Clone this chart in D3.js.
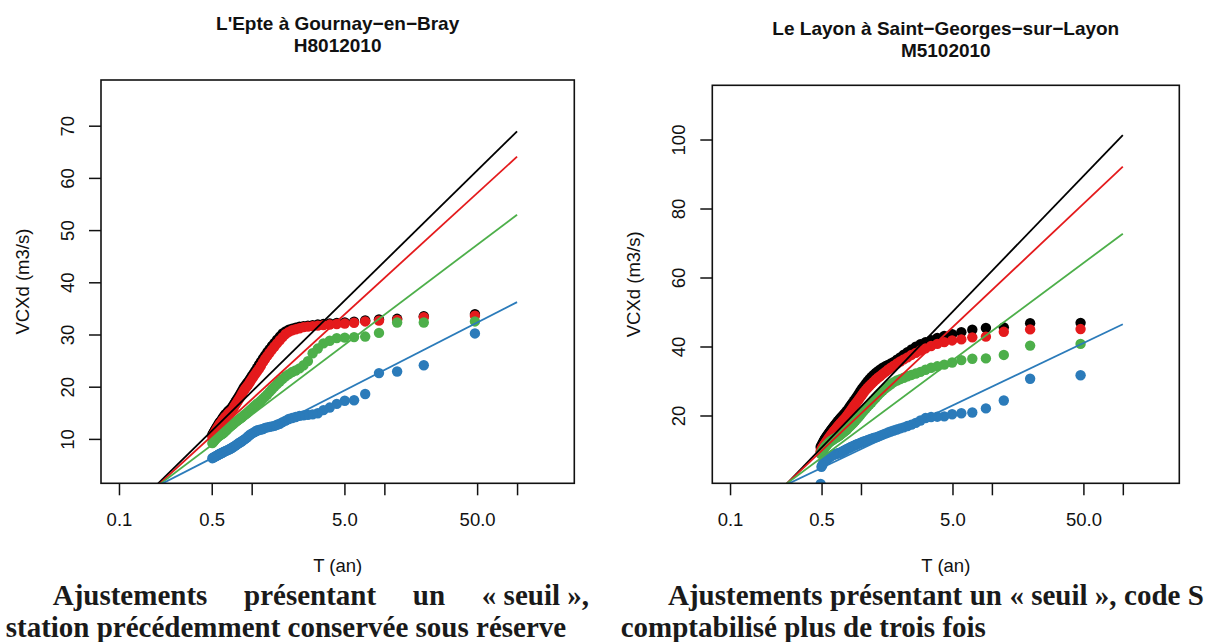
<!DOCTYPE html>
<html><head><meta charset="utf-8">
<script src="https://cdn.jsdelivr.net/npm/d3@7"></script>
<style>body{margin:0;background:#fff}svg{display:block}</style>
</head><body>
<svg id="c" width="1213" height="642"></svg>
<script>
// ---------- shared ----------
const xTicks = [0.1, 0.5, 1, 5, 10, 50, 100];
const xTickLabels = ["0.1", "0.5", "", "5.0", "", "50.0", ""];
const seriesColors = ["#000000", "#E41A1C", "#4DAF4A", "#2B7BBA"];
const xLabel = "T (an)";
const yLabel = "VCXd (m3/s)";
const lineT = [0.1, 100];

// ---------- left panel : L'Epte ----------
const leftTitle = ["L'Epte à Gournay\u2212en\u2212Bray", "H8012010"];
const leftYTicks = [10, 20, 30, 40, 50, 60, 70];
const leftT = [48.14, 19.82, 12.48, 9.108, 7.170, 5.912, 5.030, 4.377, 3.874, 3.474, 3.150, 2.880, 2.654, 2.460, 2.293, 2.146, 2.018, 1.904, 1.802, 1.711, 1.628, 1.553, 1.485, 1.422, 1.364, 1.311, 1.262, 1.217, 1.174, 1.135, 1.098, 1.063, 1.031, 1.000, 0.9712, 0.9440, 0.9183, 0.8940, 0.8708, 0.8489, 0.8280, 0.8081, 0.7892, 0.7712, 0.7539, 0.7374, 0.7216, 0.7065, 0.6920, 0.6781, 0.6647, 0.6519, 0.6395, 0.6276, 0.6161, 0.6051, 0.5944, 0.5841, 0.5741, 0.5645, 0.5552, 0.5461, 0.5375, 0.5290, 0.5209, 0.5129, 0.5053];
const leftBlack = [34.0, 33.6, 33.1, 33.0, 32.8, 32.55, 32.4, 32.3, 32.2, 32.1, 32.0, 31.9, 31.8, 31.7, 31.6, 31.4, 31.2, 31.0, 30.7, 30.3, 29.7, 29.1, 28.5, 27.9, 27.3, 26.7, 26.1, 25.5, 24.9, 24.3, 23.7, 23.1, 22.6, 22.1, 21.6, 21.1, 20.7, 20.3, 19.9, 19.4, 18.9, 18.4, 18.0, 17.6, 17.2, 16.8, 16.4, 16.1, 15.8, 15.6, 15.4, 15.1, 14.9, 14.7, 14.4, 14.1, 13.8, 13.5, 13.3, 13.0, 12.7, 12.4, 12.1, 11.8, 11.5, 11.2, 10.9];
const leftRed = [33.7, 33.4, 32.9, 32.75, 32.6, 32.35, 32.2, 32.1, 32.0, 31.9, 31.8, 31.7, 31.6, 31.5, 31.3, 31.1, 30.9, 30.6, 30.2, 29.6, 29.0, 28.4, 27.8, 27.2, 26.6, 26.0, 25.4, 24.8, 24.1, 23.5, 23.0, 22.5, 22.0, 21.5, 21.0, 20.5, 20.1, 19.7, 19.3, 18.8, 18.3, 17.8, 17.4, 17.0, 16.6, 16.2, 15.8, 15.5, 15.3, 15.1, 14.9, 14.6, 14.4, 14.2, 13.9, 13.7, 13.4, 13.1, 12.9, 12.6, 12.3, 12.0, 11.7, 11.4, 11.1, 10.8, 10.5];
const leftGreen = [32.6, 32.4, 32.4, 30.4, 29.7, 29.6, 29.5, 29.4, 28.9, 28.4, 27.4, 26.5, 25.0, 24.2, 23.6, 23.2, 22.9, 22.5, 22.1, 21.6, 21.1, 20.6, 20.1, 19.6, 19.1, 18.6, 18.2, 17.8, 17.4, 17.1, 16.8, 16.5, 16.2, 15.9, 15.6, 15.3, 15.0, 14.8, 14.6, 14.3, 14.1, 13.9, 13.7, 13.5, 13.3, 13.1, 12.9, 12.7, 12.5, 12.3, 12.1, 11.9, 11.7, 11.5, 11.3, 11.1, 11.0, 10.9, 10.8, 10.6, 10.5, 10.3, 10.1, 9.9, 9.7, 9.5, 9.3];
const leftBlue = [30.3, 24.2, 23.0, 22.7, 18.7, 17.5, 17.4, 16.8, 16.1, 15.6, 15.0, 14.8, 14.7, 14.6, 14.5, 14.3, 14.1, 13.9, 13.6, 13.3, 13.0, 12.8, 12.6, 12.5, 12.4, 12.3, 12.2, 12.0, 11.9, 11.8, 11.7, 11.5, 11.3, 11.1, 10.9, 10.6, 10.35, 10.1, 9.9, 9.7, 9.5, 9.35, 9.2, 9.0, 8.8, 8.65, 8.5, 8.35, 8.2, 8.1, 8.0, 7.9, 7.8, 7.7, 7.6, 7.5, 7.4, 7.3, 7.2, 7.1, 7.0, 6.9, 6.8, 6.7, 6.6, 6.5, 6.4];
const leftLineBlack = [-5.8, 69.0];
const leftLineRed = [-5.59, 64.16];
const leftLineGreen = [-4.49, 53.05];
const leftLineBlue = [-2.7, 36.3];
const leftCaption1 = ["Ajustements", "présentant", "un", "«\u00a0seuil\u00a0»,"];
const leftCaption2 = "station précédemment conservée sous réserve";

// ---------- right panel : Le Layon ----------
const rightTitle = ["Le Layon à Saint\u2212Georges\u2212sur\u2212Layon", "M5102010"];
const rightYTicks = [20, 40, 60, 80, 100];
const rightT = [47.57, 19.59, 12.33, 9.000, 7.085, 5.842, 4.970, 4.325, 3.828, 3.433, 3.112, 2.846, 2.622, 2.431, 2.265, 2.121, 1.994, 1.881, 1.781, 1.690, 1.609, 1.535, 1.467, 1.405, 1.348, 1.296, 1.247, 1.202, 1.160, 1.121, 1.085, 1.050, 1.018, 0.9881, 0.9597, 0.9328, 0.9074, 0.8833, 0.8605, 0.8388, 0.8182, 0.7986, 0.7799, 0.7620, 0.7450, 0.7287, 0.7131, 0.6981, 0.6838, 0.6700, 0.6568, 0.6441, 0.6319, 0.6201, 0.6088, 0.5979, 0.5873, 0.5772, 0.5673, 0.5579, 0.5486, 0.5398, 0.5311, 0.5228, 0.5147, 0.5069, 0.4993, 0.4919];
const rightBlack = [47.0, 46.9, 45.7, 45.5, 45.0, 44.3, 43.7, 43.2, 42.6, 42.0, 41.4, 40.8, 40.1, 39.3, 38.5, 37.8, 37.0, 36.3, 35.7, 35.2, 34.8, 34.4, 34.0, 33.5, 33.0, 32.5, 31.9, 31.3, 30.7, 30.0, 29.3, 28.6, 27.9, 27.2, 26.4, 25.7, 25.0, 24.4, 23.8, 23.2, 22.6, 22.0, 21.5, 21.0, 20.6, 20.2, 19.8, 19.4, 19.0, 18.6, 18.2, 17.8, 17.4, 17.0, 16.6, 16.2, 15.8, 15.4, 15.0, 14.6, 14.2, 13.8, 13.4, 13.0, 12.5, 12.0, 11.5, 11.0];
const rightRed = [45.2, 45.1, 44.4, 43.0, 42.8, 42.2, 41.9, 41.4, 40.9, 40.3, 39.6, 39.0, 38.3, 37.7, 37.0, 36.4, 35.8, 35.2, 34.6, 34.0, 33.4, 32.8, 32.2, 31.6, 31.1, 30.5, 29.9, 29.3, 28.7, 28.1, 27.5, 26.8, 26.1, 25.4, 24.7, 24.1, 23.5, 22.9, 22.3, 21.7, 21.1, 20.5, 20.0, 19.5, 19.1, 18.7, 18.3, 17.9, 17.5, 17.1, 16.7, 16.3, 15.9, 15.6, 15.2, 14.8, 14.4, 14.0, 13.6, 13.2, 12.8, 12.4, 12.0, 11.6, 11.2, 10.8, 10.3, 9.8];
const rightGreen = [40.9, 40.4, 37.7, 36.7, 36.6, 36.2, 35.5, 34.9, 34.4, 34.0, 33.4, 32.8, 32.3, 31.9, 31.5, 31.1, 30.7, 30.3, 29.8, 29.2, 28.6, 28.0, 27.4, 26.7, 26.0, 25.3, 24.6, 23.9, 23.3, 22.7, 22.1, 21.5, 20.9, 20.3, 19.7, 19.2, 18.7, 18.2, 17.7, 17.3, 16.9, 16.5, 16.1, 15.8, 15.5, 15.2, 14.9, 14.6, 14.3, 14.1, 13.9, 13.7, 13.5, 13.3, 13.1, 12.9, 12.7, 12.5, 12.2, 11.9, 11.6, 11.3, 11.0, 10.6, 10.2, 9.8, 9.4, 9.0];
const rightBlue = [31.8, 30.8, 24.5, 22.2, 21.0, 20.8, 20.5, 19.9, 19.8, 19.7, 19.4, 18.7, 18.0, 17.5, 17.1, 16.7, 16.4, 16.1, 15.8, 15.5, 15.2, 14.9, 14.6, 14.3, 14.0, 13.8, 13.6, 13.4, 13.2, 13.0, 12.8, 12.6, 12.4, 12.2, 12.0, 11.8, 11.6, 11.4, 11.2, 11.0, 10.8, 10.6, 10.4, 10.2, 10.0, 9.8, 9.6, 9.4, 9.3, 9.2, 9.1, 9.0, 8.9, 8.8, 8.7, 8.5, 8.3, 8.1, 7.9, 7.7, 7.5, 7.3, 7.0, 6.7, 6.3, 5.8, 5.3, 0.3];
const rightLineBlack = [-16.7, 101.4];
const rightLineRed = [-15.1, 92.26];
const rightLineGreen = [-11.8, 72.84];
const rightLineBlue = [-7.7, 46.6];
const rightCaption1 = ["Ajustements", "présentant", "un", "«\u00a0seuil\u00a0»,", "code", "S"];
const rightCaption2 = "comptabilisé plus de trois fois";

// ---------- drawing ----------
const svg = d3.select("#c");
const SANS = "'Liberation Sans', Arial, Helvetica, sans-serif";
const SERIF = "'Liberation Serif', 'Times New Roman', serif";

function panel(o) {
  const g = svg.append("g");
  const x = d3.scaleLog().domain([0.0732, 270]).range([o.x0, o.x1]);
  const y = d3.scaleLinear().domain(o.yDomain).range([o.y1, o.y0]);
  const cid = "clip" + o.id;
  svg.append("clipPath").attr("id", cid).append("rect")
    .attr("x", o.x0).attr("y", o.y0).attr("width", o.x1 - o.x0).attr("height", o.y1 - o.y0);
  const plot = g.append("g").attr("clip-path", `url(#${cid})`);

  o.series.forEach((vals, k) => {
    plot.append("g").selectAll("circle").data(vals).join("circle")
      .attr("cx", (d, i) => x(o.T[i])).attr("cy", d => y(d))
      .attr("r", 5.2).attr("fill", seriesColors[k]);
  });
  const line = d3.line().x((d, i) => x(lineT[i])).y(d => y(d));
  o.lines.forEach((vals, k) => {
    plot.append("path").attr("d", line(vals)).attr("fill", "none")
      .attr("stroke", seriesColors[k]).attr("stroke-width", 1.8);
  });

  // box
  g.append("rect").attr("x", o.x0).attr("y", o.y0)
    .attr("width", o.x1 - o.x0).attr("height", o.y1 - o.y0)
    .attr("fill", "none").attr("stroke", "#111").attr("stroke-width", 1.6);

  // x axis
  const ax = g.append("g").attr("transform", `translate(0,${o.y1})`)
    .call(d3.axisBottom(x).tickValues(xTicks).tickFormat((d, i) => xTickLabels[i])
      .tickSize(12).tickPadding(17.5));
  ax.select(".domain").remove();
  ax.selectAll("line").attr("stroke", "#111").attr("stroke-width", 1.5);
  ax.selectAll("text").attr("font-family", SANS).attr("font-size", 18.5).attr("fill", "#111");

  // y axis (rotated labels, R style)
  g.append("g").selectAll("line").data(o.yTicks).join("line")
    .attr("x1", o.x0 - 12).attr("x2", o.x0)
    .attr("y1", d => y(d)).attr("y2", d => y(d))
    .attr("stroke", "#111").attr("stroke-width", 1.5);
  g.append("g").selectAll("text").data(o.yTicks).join("text")
    .attr("transform", d => `translate(${o.x0 - 27},${y(d)}) rotate(-90)`)
    .attr("text-anchor", "middle").attr("font-family", SANS).attr("font-size", 18.5)
    .attr("fill", "#111").text(d => d);

  // axis titles
  const cx = (o.x0 + o.x1) / 2, cy = (o.y0 + o.y1) / 2;
  g.append("text").attr("x", cx).attr("y", o.y1 + 88.5).attr("text-anchor", "middle")
    .attr("font-family", SANS).attr("font-size", 18.5).attr("fill", "#111").text(xLabel);
  g.append("text").attr("transform", `translate(${o.x0 - 72},${cy}) rotate(-90)`)
    .attr("text-anchor", "middle").attr("font-family", SANS).attr("font-size", 18.5)
    .attr("fill", "#111").text(yLabel);

  // title
  o.title.forEach((t, i) => {
    g.append("text").attr("x", cx).attr("y", o.y0 - 50.5 + i * 22.5)
      .attr("text-anchor", "middle").attr("font-family", SANS).attr("font-weight", "bold")
      .attr("font-size", 19).attr("fill", "#111").text(t);
  });
}

panel({id: "L", x0: 101, x1: 574.3, y0: 80, y1: 483.3, yDomain: [1.59, 78.85],
  T: leftT, series: [leftBlack, leftRed, leftGreen, leftBlue],
  lines: [leftLineBlack, leftLineRed, leftLineGreen, leftLineBlue],
  yTicks: leftYTicks, title: leftTitle});
panel({id: "R", x0: 712.3, x1: 1179.3, y0: 85.3, y1: 483.3, yDomain: [0.49, 115.86],
  T: rightT, series: [rightBlack, rightRed, rightGreen, rightBlue],
  lines: [rightLineBlack, rightLineRed, rightLineGreen, rightLineBlue],
  yTicks: rightYTicks, title: rightTitle});

// captions
const CAP_SIZE = 29;
function justified(words, xs, xe, yb) {
  const g = svg.append("g");
  const nodes = words.map(w => g.append("text").attr("y", yb).attr("font-family", SERIF)
    .attr("font-weight", "bold").attr("font-size", CAP_SIZE).attr("fill", "#1a1a1a").text(w));
  const widths = nodes.map(n => n.node().getComputedTextLength());
  const gap = (xe - xs - d3.sum(widths)) / (words.length - 1);
  let cur = xs;
  nodes.forEach((n, i) => { n.attr("x", cur); cur += widths[i] + gap; });
}
function plain(t, xs, yb) {
  svg.append("text").attr("x", xs).attr("y", yb).attr("font-family", SERIF)
    .attr("font-weight", "bold").attr("font-size", CAP_SIZE).attr("fill", "#1a1a1a").text(t);
}
justified(leftCaption1, 52.7, 589, 605);
plain(leftCaption2, 5.7, 637);
justified(rightCaption1, 668, 1204, 605);
plain(rightCaption2, 620.7, 637);
</script>
</body></html>
